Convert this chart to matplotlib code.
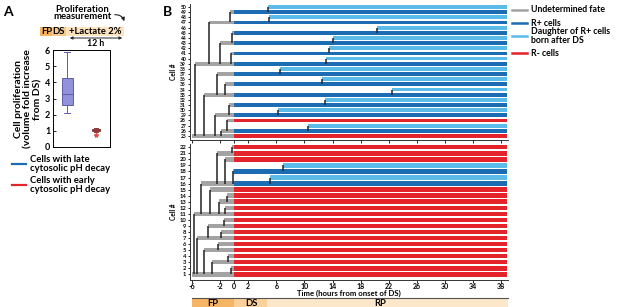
import matplotlib
matplotlib.use('Agg')
import matplotlib.pyplot as plt
from matplotlib.lines import Line2D
from matplotlib.patches import Rectangle, FancyArrowPatch

plt.rcParams['font.family'] = ['Lato', 'DejaVu Sans']
plt.rcParams['font.weight'] = 'bold'

# ---------------- Panel A data ----------------
A_groups = ['Cells with late\ncytosolic pH decay', 'Cells with early\ncytosolic pH decay']
A_whislo = [2.1, 0.92]
A_q1 = [2.6, 1.0]
A_med = [3.3, 1.05]
A_q3 = [4.25, 1.1]
A_whishi = [5.85, 1.18]
A_fliers = [[], [0.75]]
A_yticks = [0, 1, 2, 3, 4, 5, 6]

# ---------------- Panel B data ----------------
END_TIME = 38.9
top_cells = list(range(25, 51))
top_birth = [-6.0, -1.85, 10.5, -1.05, -2.7, 6.3, -0.75, 12.9, -4.27, 22.5,
             -1.38, 12.5, -2.45, 6.45, -5.56, 13.1, -0.45, 13.5, -2.0, 14.1,
             -0.25, 20.4, -3.6, 4.9, -0.57, 4.75]
top_parent = [None, 25, 26, 26, 25, 29, 29, 31, 25, 33,
              33, 35, 33, 37, 25, 39, 39, 41, 39, 43,
              43, 45, 39, 47, 47, 49]
top_fate = ['R', 'B', 'D', 'R', 'B', 'D', 'B', 'D', 'B', 'D',
            'B', 'D', 'B', 'D', 'B', 'D', 'B', 'D', 'B', 'D',
            'B', 'D', 'B', 'D', 'B', 'D']

bot_cells = list(range(1, 23))
bot_birth = [-6.0, -0.43, -3.1, -0.95, -4.25, -2.35, -5.25, -1.95, -3.75, -1.5,
             -5.8, -1.3, -2.2, -1.05, -3.4, -4.75, 5.1, -0.24, 6.9, -1.3,
             -2.5, -0.35]
bot_parent = [None, 1, 1, 3, 1, 5, 1, 7, 7, 9,
              1, 11, 11, 13, 11, 11, 16, 16, 18, 16,
              16, 21]
bot_fate = ['R'] * 15 + ['B', 'D', 'B', 'D', 'R', 'R', 'R']

x_ticks = [-6, -2, 0, 2, 6, 10, 14, 18, 22, 26, 30, 34, 38]
phases = ['FP', 'DS', 'RP']
phase_start = [-6, 0, 4.7]
phase_end = [0, 4.7, 39]

legend_B = ['Undetermined fate', 'R+ cells', 'Daughter of R+ cells\nborn after DS', 'R- cells']

# ---------------- style ----------------
GRAY = '#a3a3a3'
DBLUE = '#1c6cb4'
LBLUE = '#5bbbe9'
RED = '#e5232b'
fate_color = {'R': RED, 'B': DBLUE, 'D': LBLUE}
W, H = 617, 307


def fx(px):
    return px / W


def fy(py):
    return 1 - py / H


fig = plt.figure(figsize=(6.17, 3.07), dpi=100)

# ---------------- Panel A ----------------
axA = fig.add_axes([fx(53), fy(147), 57 / W, 97 / H])
stats = []
for i in range(2):
    stats.append(dict(whislo=A_whislo[i], q1=A_q1[i], med=A_med[i], q3=A_q3[i],
                      whishi=A_whishi[i], fliers=A_fliers[i]))
bp = axA.bxp(stats, positions=[1, 2], widths=[0.4, 0.28], patch_artist=True,
             showfliers=True)
bp['boxes'][0].set(facecolor='#9191dc', edgecolor='#5f5fa8', linewidth=0.7)
bp['boxes'][1].set(facecolor='#d98c8c', edgecolor='#8a3a3a', linewidth=0.7)
for i, c in enumerate(['#5f5fa8', '#8a3a3a']):
    bp['medians'][i].set(color=c, linewidth=0.8)
    for w in bp['whiskers'][2 * i:2 * i + 2]:
        w.set(color=c, linewidth=0.7)
    for cp in bp['caps'][2 * i:2 * i + 2]:
        cp.set(color=c, linewidth=0.7)
bp['fliers'][1].set(marker='*', markersize=3, markeredgecolor='#e05050',
                    markerfacecolor='#e05050')
axA.set_xlim(0.5, 2.5)
axA.set_ylim(0, 6)
axA.set_yticks(A_yticks)
axA.set_xticks([])
axA.tick_params(axis='y', direction='in', length=2, labelsize=6.5, pad=2, width=0.6)
for s in axA.spines.values():
    s.set_linewidth(0.7)
fig.text(fx(28), fy(99), 'Cell proliferation\n(volume fold increase\nfrom DS)', rotation=90,
         ha='center', va='center', fontsize=7.5, fontweight='bold', multialignment='center',
         linespacing=1.1)

fig.text(fx(3), fy(12), 'A', fontsize=10, fontweight='bold', va='center')
fig.text(fx(163), fy(12), 'B', fontsize=10, fontweight='bold', va='center')

# top schematic of panel A
fig.text(fx(82), fy(13), 'Proliferation\nmeasurement', ha='center', va='center',
         fontsize=6.8, fontweight='bold', linespacing=0.8)
arr = FancyArrowPatch((fx(112), fy(15)), (fx(125), fy(24)), transform=fig.transFigure,
                      connectionstyle='arc3,rad=-0.5', arrowstyle='-|>', mutation_scale=5,
                      color='#222222', lw=0.8)
fig.add_artist(arr)
for x0, x1, col in [(40, 52, '#f5b363'), (52, 66, '#f8c98a'), (66, 124, '#fde3c0')]:
    fig.add_artist(Rectangle((fx(x0), fy(36)), (x1 - x0) / W, 9 / H, transform=fig.transFigure,
                             facecolor=col, edgecolor='none'))
fig.text(fx(41), fy(31.5), 'FP', fontsize=6.8, fontweight='bold', va='center')
fig.text(fx(52.5), fy(31.5), 'DS', fontsize=6.8, fontweight='bold', va='center')
fig.text(fx(69), fy(31.5), '+Lactate 2%', fontsize=6.8, fontweight='bold', va='center')
arr2 = FancyArrowPatch((fx(67), fy(38)), (fx(125), fy(38)), transform=fig.transFigure,
                       arrowstyle='<|-|>', mutation_scale=4, color='#222222', lw=0.7)
fig.add_artist(arr2)
fig.text(fx(96), fy(43.5), '12 h', ha='center', va='center', fontsize=6.3, fontweight='bold')

# legend A
for py, col, txt in [(164, DBLUE, A_groups[0]), (185, RED, A_groups[1])]:
    fig.add_artist(Line2D([fx(12), fx(26)], [fy(py), fy(py)], color=col, lw=1.6,
                          transform=fig.transFigure))
    fig.text(fx(30), fy(py), txt, fontsize=6.8, fontweight='bold', va='center',
             linespacing=0.95)


# ---------------- Panel B ----------------
def draw_lineage(ax, cells, birth, parent, fate, h):
    for c, b, p, f in zip(cells, birth, parent, fate):
        if b < 0:
            ax.barh(c, -b, left=b, height=h, color=GRAY, linewidth=0, zorder=2)
        start = max(b, 0)
        ax.barh(c, END_TIME - start, left=start, height=h, color=fate_color[f],
                linewidth=0, zorder=2)
        if p is not None:
            ax.vlines(b, min(c, p), max(c, p), color='#222222', lw=1.1, zorder=3)


axT = fig.add_axes([fx(190), fy(140), 318 / W, 136 / H])
draw_lineage(axT, top_cells, top_birth, top_parent, top_fate, 0.74)
axT.set_xlim(-6.3, 39)
axT.set_ylim(24.22, 50.58)
axT.set_yticks(top_cells)
axT.set_yticklabels([str(c) for c in top_cells])
axT.set_xticks(x_ticks)
axT.set_xticklabels([])
axT.tick_params(axis='y', length=1.8, labelsize=3.6, pad=1, width=0.6)
axT.tick_params(axis='x', length=2, width=0.6)
axT.set_ylabel('Cell #', fontsize=4.8, fontweight='bold', labelpad=2)

axBt = fig.add_axes([fx(190), fy(280), 318 / W, 136.5 / H])
draw_lineage(axBt, bot_cells, bot_birth, bot_parent, bot_fate, 0.74)
axBt.set_xlim(-6.3, 39)
axBt.set_ylim(0.06, 22.62)
axBt.set_yticks(bot_cells)
axBt.set_yticklabels([str(c) for c in bot_cells])
axBt.set_xticks(x_ticks)
axBt.set_xticklabels([str(t) for t in x_ticks])
axBt.tick_params(axis='y', length=1.8, labelsize=4.2, pad=1, width=0.6)
axBt.tick_params(axis='x', length=2, labelsize=5, pad=0.5, width=0.6)
axBt.set_ylabel('Cell #', fontsize=4.8, fontweight='bold', labelpad=2)
fig.text(fx(349), fy(293), 'Time (hours from onset of DS)', ha='center', va='center',
         fontsize=5.6, fontweight='bold')

for ax in (axT, axBt):
    ax.spines['top'].set_visible(False)
    ax.spines['right'].set_visible(False)
    ax.spines['left'].set_linewidth(0.7)
    ax.spines['bottom'].set_linewidth(0.7)
    ax.spines['left'].set_color('#333333')
    ax.spines['bottom'].set_color('#333333')

# phase band
axP = fig.add_axes([fx(190), 0, 318 / W, 9.3 / H])
axP.set_xlim(-6.3, 39)
axP.set_ylim(0, 1)
axP.axis('off')
for name, s, e, col in zip(phases, phase_start, phase_end, ['#f6b465', '#fbd09a', '#fde7cb']):
    axP.add_patch(Rectangle((s, 0), e - s, 1, facecolor=col, edgecolor='none'))
axP.plot([-6, 39], [1, 1], color='#555555', lw=0.8, clip_on=False)
axP.text(-3, 0.4, 'FP', ha='center', va='center', fontsize=6.8, fontweight='bold')
axP.text(2.4, 0.4, 'DS', ha='center', va='center', fontsize=6.8, fontweight='bold')
axP.text(20.8, 0.4, 'RP', ha='center', va='center', fontsize=6.8, fontweight='bold')

# legend B
for py, col, txt in [(10, GRAY, legend_B[0]), (23, DBLUE, legend_B[1]),
                     (36, LBLUE, legend_B[2]), (53, RED, legend_B[3])]:
    fig.add_artist(Line2D([fx(512), fx(527)], [fy(py), fy(py)], color=col, lw=1.8,
                          transform=fig.transFigure))
    fig.text(fx(531), fy(py), txt, fontsize=6.3, fontweight='bold', va='center',
             linespacing=0.95)

fig.savefig('out.png', dpi=100)
